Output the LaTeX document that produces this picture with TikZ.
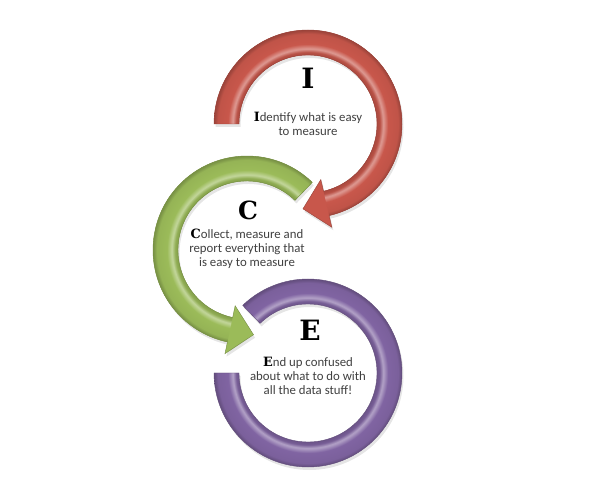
\documentclass[tikz,border=0pt]{standalone}
\usepackage{fontspec}
\setmainfont{Carlito}
\newfontfamily\capfont{DejaVu Serif}
\definecolor{redM}{HTML}{C8574B}
\definecolor{greenM}{HTML}{9BBB59}
\definecolor{purpleM}{HTML}{8064A2}
\definecolor{txt}{HTML}{404040}
\newcommand\maketube[2]{\pgfdeclareradialshading{#1}{\pgfpointorigin}{%
color(0bp)=(#2!85!black); color(15.68bp)=(#2!85!black); color(16.3bp)=(#2!92!black);
color(17.1bp)=(#2!60!white); color(18.2bp)=(#2); color(20.5bp)=(#2!96!black);
color(21.1bp)=(#2!82!black); color(21.4bp)=(#2!78!black); color(25bp)=(#2!78!black)}}
\maketube{redtube}{redM}
\maketube{greentube}{greenM}
\maketube{purpletube}{purpleM}
% shapes (relative to their own centre)
\newcommand\redarrow[1]{\path[#1] (180:94) arc[start angle=180,end angle=-77,radius=94] -- (-77:106) -- (-93.4:85) -- (-77:57) -- (-77:69) arc[start angle=-77,end angle=180,radius=69] -- cycle;}
\newcommand\redshaft[1]{\path[#1] (180:94) arc[start angle=180,end angle=-77,radius=94] -- (-77:69) arc[start angle=-77,end angle=180,radius=69] -- cycle;}
\newcommand\greenarrow[1]{\path[#1] (46:94) arc[start angle=46,end angle=258,radius=94] -- (258:106) -- (274.4:85) -- (258:57) -- (258:69) arc[start angle=258,end angle=46,radius=69] -- cycle;}
\newcommand\greenshaft[1]{\path[#1] (46:94) arc[start angle=46,end angle=258,radius=94] -- (258:69) arc[start angle=258,end angle=46,radius=69] -- cycle;}
\newcommand\purplering[1]{\path[#1] (180:94) arc[start angle=180,end angle=494,radius=94] -- (494:69) arc[start angle=494,end angle=180,radius=69] -- cycle;}
\begin{document}
\begin{tikzpicture}[x=1pt,y=1pt,
  bigletter/.style={font=\capfont\bfseries\fontsize{28}{28}\selectfont, text=black, inner sep=0pt},
  desc/.style={font=\fontsize{12.8}{14}\selectfont, text=txt, align=center, inner sep=0pt},
  shadowfill/.style={fill=black, opacity=0.10}]
\useasboundingbox (0,0) rectangle (610,498);
\fill[white] (0,0) rectangle (610,498);

% purple ring
\begin{scope}[shift={(308,125)}]
  \begin{scope}[shift={(1.5,-3)}]\purplering{shadowfill}\end{scope}
  \begin{scope}\purplering{clip}\shade[shading=purpletube] (0,0) circle (110);\end{scope}
  \purplering{draw=purpleM!75!black, line width=0.4pt}
\end{scope}

% green arrow
\begin{scope}[shift={(247,248)}]
  \begin{scope}[shift={(1.5,-3)}]\greenarrow{shadowfill}\end{scope}
  \greenarrow{fill=greenM}
  \begin{scope}\greenshaft{clip}\shade[shading=greentube] (0,0) circle (110);\end{scope}
  \greenarrow{draw=greenM!75!black, line width=0.4pt}
\end{scope}

% red arrow
\begin{scope}[shift={(308,374)}]
  \begin{scope}[shift={(1.5,-3)}]\redarrow{shadowfill}\end{scope}
  \redarrow{fill=redM}
  \begin{scope}\redshaft{clip}\shade[shading=redtube] (0,0) circle (110);\end{scope}
  \redarrow{draw=redM!75!black, line width=0.4pt}
\end{scope}

% texts
\node[bigletter] (lI) at (308,420) {I};
\node[desc] (tI) at (308,374) {{\capfont\bfseries\color{black}I}dentify what is easy\\to measure};
\node[bigletter, font=\capfont\bfseries\fontsize{25}{25}\selectfont] (lC) at (248,288) {C};
\node[desc] (tC) at (247,249) {{\capfont\bfseries\color{black}C}ollect, measure and\\report everything that\\is easy to measure};
\node[bigletter] (lE) at (310,168) {E};
\node[desc] (tE) at (308,122) {{\capfont\bfseries\color{black}E}nd up confused\\about what to do with\\all the data stuff!};
\end{tikzpicture}
\end{document}
